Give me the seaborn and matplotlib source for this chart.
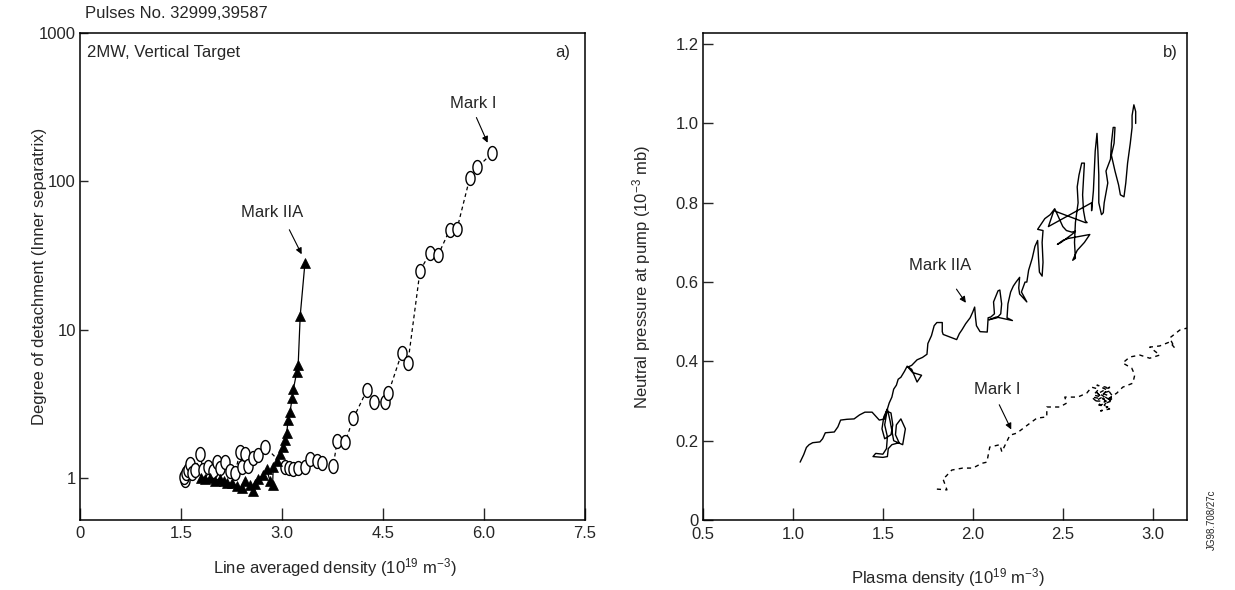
import numpy as np
import pandas as pd
import matplotlib
matplotlib.use("Agg")
import matplotlib.pyplot as plt
from matplotlib.path import Path
import seaborn as sns

# ---------------- data: panel a ----------------
mark1_x = [1.56, 1.55, 1.57, 1.60, 1.63, 1.66, 1.71, 1.78, 1.83, 1.90, 1.98, 2.03, 2.08, 2.15,
           2.23, 2.30, 2.38, 2.40, 2.45, 2.50, 2.57, 2.64, 2.75, 3.04, 3.10, 3.17, 3.24, 3.34,
           3.42, 3.52, 3.59, 3.76, 3.82, 3.94, 4.06, 4.26, 4.36, 4.53, 4.58, 4.78, 4.87, 5.05,
           5.20, 5.32, 5.49, 5.60, 5.79, 5.90, 6.12]
mark1_y = [0.97, 1.02, 1.08, 1.13, 1.24, 1.08, 1.13, 1.45, 1.13, 1.19, 1.12, 1.28, 1.17, 1.28,
           1.12, 1.08, 1.50, 1.19, 1.45, 1.20, 1.36, 1.43, 1.62, 1.19, 1.17, 1.14, 1.17, 1.19,
           1.34, 1.30, 1.27, 1.20, 1.78, 1.76, 2.53, 3.9, 3.25, 3.25, 3.74, 7.0, 6.0, 25.0,
           33.0, 32.0, 47.0, 48.0, 106.0, 124.0, 155.0]

mark2a_x = [1.80, 1.86, 1.93, 2.00, 2.08, 2.14, 2.18, 2.26, 2.33, 2.40, 2.45, 2.52, 2.57, 2.60,
            2.64, 2.72, 2.77, 2.82, 2.86, 2.87, 2.92, 2.97, 3.02, 3.04, 3.07, 3.09, 3.12, 3.15,
            3.17, 3.22, 3.24, 3.27, 3.34]
mark2a_y = [1.00, 0.98, 1.00, 0.96, 0.99, 0.95, 0.93, 0.92, 0.88, 0.86, 0.96, 0.89, 0.82, 0.91,
            0.99, 1.04, 1.15, 0.96, 0.90, 1.18, 1.30, 1.45, 1.62, 1.80, 2.02, 2.45, 2.80, 3.45,
            4.0, 5.2, 5.8, 12.4, 28.0]

a_xticks = [0, 1.5, 3.0, 4.5, 6.0, 7.5]
a_xticklabels = ["0", "1.5", "3.0", "4.5", "6.0", "7.5"]
a_yticks = [1, 10, 100, 1000]
a_yticklabels = ["1", "10", "100", "1000"]

# ---------------- data: panel b ----------------
iia_x = [1.04, 1.06, 1.075, 1.09, 1.11, 1.15, 1.165, 1.18, 1.23, 1.25, 1.265, 1.30, 1.34, 1.37,
         1.40, 1.44, 1.46, 1.48, 1.51,
         1.52, 1.545, 1.555, 1.545, 1.51, 1.495, 1.505, 1.525, 1.54, 1.56, 1.61, 1.625, 1.60,
         1.575, 1.57, 1.59, 1.55, 1.53, 1.525, 1.50, 1.445, 1.46, 1.50, 1.52, 1.525, 1.51, 1.525,
         1.535, 1.55, 1.56, 1.575, 1.585, 1.60, 1.62, 1.635, 1.665, 1.715, 1.69, 1.66, 1.64, 1.66,
         1.69, 1.72, 1.745, 1.75, 1.77, 1.785, 1.80, 1.83, 1.83, 1.835, 1.87, 1.91, 1.925, 1.94,
         1.96, 1.985, 2.00, 2.01, 2.015, 2.02, 2.04, 2.08, 2.085, 2.10, 2.12, 2.115, 2.14, 2.15,
         2.16, 2.155, 2.135, 2.09, 2.13, 2.20, 2.22, 2.19, 2.195, 2.21, 2.225, 2.24, 2.26, 2.255,
         2.26, 2.30, 2.27, 2.29,
         2.30, 2.31, 2.33, 2.345, 2.36, 2.365, 2.37, 2.385, 2.39, 2.385, 2.39, 2.36, 2.40, 2.43,
         2.455, 2.48, 2.50, 2.52, 2.55, 2.57, 2.55, 2.52, 2.49, 2.47, 2.50, 2.53, 2.65, 2.62,
         2.58, 2.555,
         2.57, 2.565, 2.57, 2.585, 2.58, 2.59, 2.605, 2.62, 2.615, 2.61, 2.615, 2.625, 2.635,
         2.625, 2.45, 2.42, 2.66,
         2.66, 2.67, 2.675, 2.68, 2.69, 2.695, 2.70, 2.70, 2.715, 2.725, 2.73,
         2.75, 2.74, 2.765, 2.77, 2.78, 2.79, 2.785, 2.77, 2.79, 2.81, 2.82, 2.84, 2.85, 2.86,
         2.875, 2.885, 2.885, 2.895, 2.905, 2.905]
iia_y = [0.146, 0.165, 0.183, 0.19, 0.195, 0.197, 0.205, 0.22, 0.222, 0.235, 0.252, 0.254, 0.255,
         0.265, 0.272, 0.272, 0.262, 0.252, 0.255,
         0.275, 0.27, 0.24, 0.215, 0.205, 0.23, 0.26, 0.28, 0.25, 0.20, 0.19, 0.23, 0.255,
         0.24, 0.215, 0.195, 0.19, 0.18, 0.16, 0.158, 0.16, 0.168, 0.166, 0.18, 0.21, 0.24, 0.28,
         0.295, 0.31, 0.33, 0.34, 0.355, 0.36, 0.375, 0.388, 0.372, 0.365, 0.348, 0.38, 0.386, 0.39,
         0.404, 0.41, 0.418, 0.445, 0.465, 0.49, 0.498, 0.498, 0.475, 0.468, 0.462, 0.455, 0.47,
         0.48, 0.495, 0.51, 0.525, 0.537, 0.51, 0.49, 0.475, 0.474, 0.51, 0.512, 0.52, 0.55,
         0.578, 0.58, 0.545, 0.52, 0.51, 0.505, 0.512, 0.505, 0.503, 0.51, 0.545, 0.575, 0.59,
         0.60, 0.612, 0.585, 0.57, 0.55, 0.575, 0.60,
         0.60, 0.63, 0.66, 0.69, 0.705, 0.66, 0.625, 0.615, 0.65, 0.70, 0.73, 0.733, 0.76, 0.77,
         0.785, 0.76, 0.74, 0.73, 0.726, 0.728, 0.72, 0.71, 0.70, 0.695, 0.705, 0.71, 0.72,
         0.70, 0.68, 0.655,
         0.66, 0.70, 0.75, 0.80, 0.84, 0.87, 0.90, 0.90, 0.86, 0.82, 0.78, 0.755, 0.75, 0.75,
         0.78, 0.74, 0.80,
         0.78, 0.83, 0.88, 0.93, 0.975, 0.93, 0.87, 0.80, 0.77, 0.775, 0.80,
         0.85, 0.88, 0.91, 0.95, 0.99, 0.99, 0.95, 0.92, 0.88, 0.845, 0.82, 0.815, 0.85, 0.90,
         0.95, 0.99, 1.02, 1.047, 1.03, 1.00]

m1_x = [1.80, 1.856, 1.833, 1.85, 1.883, 1.944, 2.0, 2.05, 2.078, 2.094, 2.15, 2.161, 2.206,
        2.244, 2.317, 2.356, 2.411, 2.411, 2.483, 2.522, 2.511, 2.583, 2.633,
        2.66, 2.70, 2.67, 2.72, 2.68, 2.74, 2.70, 2.75, 2.71, 2.76, 2.73, 2.77, 2.72, 2.76,
        2.69, 2.74, 2.78, 2.75, 2.68, 2.73, 2.66, 2.71, 2.77, 2.72, 2.76, 2.70, 2.75,
        2.80, 2.833, 2.889, 2.90, 2.883, 2.833, 2.872, 2.928, 2.983,
        3.039, 2.983, 3.039, 3.094, 3.122, 3.094, 3.15, 3.19]
m1_y = [0.078, 0.076, 0.105, 0.11, 0.126, 0.131, 0.131, 0.143, 0.146, 0.184, 0.19, 0.172, 0.214,
        0.219, 0.244, 0.257, 0.26, 0.285, 0.285, 0.295, 0.31, 0.31, 0.32,
        0.335, 0.33, 0.315, 0.31, 0.30, 0.30, 0.29, 0.285, 0.275, 0.28, 0.29, 0.31, 0.32, 0.325,
        0.34, 0.335, 0.31, 0.295, 0.325, 0.305, 0.31, 0.29, 0.30, 0.315, 0.335, 0.32, 0.305,
        0.32, 0.335, 0.345, 0.366, 0.383, 0.396, 0.411, 0.416, 0.408,
        0.416, 0.436, 0.439, 0.449, 0.434, 0.459, 0.479, 0.484]

b_xticks = [0.5, 1.0, 1.5, 2.0, 2.5, 3.0]
b_xticklabels = ["0.5", "1.0", "1.5", "2.0", "2.5", "3.0"]
b_yticks = [0, 0.2, 0.4, 0.6, 0.8, 1.0, 1.2]
b_yticklabels = ["0", "0.2", "0.4", "0.6", "0.8", "1.0", "1.2"]

# ---------------- style ----------------
sns.set_theme(style="ticks")
plt.rcParams["font.family"] = ["Liberation Sans", "DejaVu Sans"]
plt.rcParams["mathtext.default"] = "regular"
plt.rcParams["font.size"] = 12

fig = plt.figure(figsize=(12.35, 5.9), dpi=100)
ax1 = fig.add_axes([0.0648, 0.1186, 0.4089, 0.8254])
ax2 = fig.add_axes([0.5692, 0.1186, 0.3919, 0.8254])

# open oval marker (tall "0"-like circle)
t = np.linspace(0, 2 * np.pi, 40)
oval = Path(np.column_stack([0.33 * np.cos(t), 0.5 * np.sin(t)]))

d1 = pd.DataFrame({"x": mark1_x, "y": mark1_y})
d2 = pd.DataFrame({"x": mark2a_x, "y": mark2a_y})
sns.lineplot(data=d1, x="x", y="y", ax=ax1, sort=False, estimator=None, color="black",
             linewidth=0.9, linestyle=(0, (3, 2.5)), marker=oval, markersize=10,
             markerfacecolor="white", markeredgecolor="black", markeredgewidth=1.0)
sns.lineplot(data=d2, x="x", y="y", ax=ax1, sort=False, estimator=None, color="black",
             linewidth=0.9, marker="^", markersize=6.5, markerfacecolor="black",
             markeredgecolor="black", markeredgewidth=0.5)

ax1.set_yscale("log")
ax1.set_xlim(0, 7.5)
ax1.set_ylim(0.52, 1000)
ax1.set_xticks(a_xticks)
ax1.set_xticklabels(a_xticklabels)
ax1.set_yticks(a_yticks)
ax1.set_yticklabels(a_yticklabels)
ax1.yaxis.set_minor_locator(matplotlib.ticker.NullLocator())
ax1.tick_params(axis="x", direction="in", length=8.5, width=1, pad=4, labelsize=12)
ax1.tick_params(axis="y", direction="in", length=6, width=1, pad=3, labelsize=12)
ax1.set_xlabel(r"Line averaged density (10$^{19}$ m$^{-3}$)", fontsize=12)
ax1.set_ylabel("Degree of detachment (Inner separatrix)", fontsize=12)
ax1.xaxis.set_label_coords(0.505, -0.074)
ax1.yaxis.set_label_coords(-0.066, 0.5)
ax1.text(0.014, 0.96, "2MW, Vertical Target", transform=ax1.transAxes, fontsize=12,
         ha="left", va="center")
ax1.text(0.955, 0.96, "a)", transform=ax1.transAxes, fontsize=12, ha="center", va="center")
ax1.text(0.01, 1.04, "Pulses No. 32999,39587", transform=ax1.transAxes, fontsize=12,
         ha="left", va="center")
ax1.annotate("", xy=(6.07, 175), xytext=(5.87, 280),
             arrowprops=dict(arrowstyle="-|>", color="black", lw=0.8, mutation_scale=9))
ax1.text(5.84, 335, "Mark I", fontsize=12, ha="center", va="center")
ax1.annotate("", xy=(3.31, 31), xytext=(3.09, 49),
             arrowprops=dict(arrowstyle="-|>", color="black", lw=0.8, mutation_scale=9))
ax1.text(2.85, 62, "Mark IIA", fontsize=12, ha="center", va="center")

# ---------------- panel b ----------------
e1 = pd.DataFrame({"x": iia_x, "y": iia_y})
e2 = pd.DataFrame({"x": m1_x, "y": m1_y})
sns.lineplot(data=e1, x="x", y="y", ax=ax2, sort=False, estimator=None, color="black",
             linewidth=1.0)
sns.lineplot(data=e2, x="x", y="y", ax=ax2, sort=False, estimator=None, color="black",
             linewidth=1.0, linestyle=(0, (3, 3)))

ax2.set_xlim(0.5, 3.19)
ax2.set_ylim(0, 1.228)
ax2.set_xticks(b_xticks)
ax2.set_xticklabels(b_xticklabels)
ax2.set_yticks(b_yticks)
ax2.set_yticklabels(b_yticklabels)
ax2.tick_params(axis="x", direction="in", length=8.5, width=1, pad=5, labelsize=12)
ax2.tick_params(axis="y", direction="in", length=7, width=1, pad=3, labelsize=12)
ax2.set_xlabel(r"Plasma density (10$^{19}$ m$^{-3}$)", fontsize=12)
ax2.set_ylabel(r"Neutral pressure at pump (10$^{-3}$ mb)", fontsize=12)
ax2.xaxis.set_label_coords(0.506, -0.094)
ax2.yaxis.set_label_coords(-0.104, 0.5)
ax2.text(0.965, 0.96, "b)", transform=ax2.transAxes, fontsize=12, ha="center", va="center")
ax2.annotate("", xy=(1.97, 0.542), xytext=(1.90, 0.588),
             arrowprops=dict(arrowstyle="-|>", color="black", lw=0.8, mutation_scale=9))
ax2.text(1.817, 0.643, "Mark IIA", fontsize=12, ha="center", va="center")
ax2.annotate("", xy=(2.22, 0.222), xytext=(2.14, 0.297),
             arrowprops=dict(arrowstyle="-|>", color="black", lw=0.8, mutation_scale=9))
ax2.text(2.133, 0.328, "Mark I", fontsize=12, ha="center", va="center")
fig.text(1212 / 1235, 1 - 520 / 590, "JG98.708/27c", rotation=90, fontsize=7,
         ha="center", va="center")

for ax in (ax1, ax2):
    for s in ax.spines.values():
        s.set_visible(True)
        s.set_linewidth(1.1)
        s.set_color("black")
    leg = ax.get_legend()
    if leg is not None:
        leg.remove()

fig.savefig("out.png", dpi=100)
